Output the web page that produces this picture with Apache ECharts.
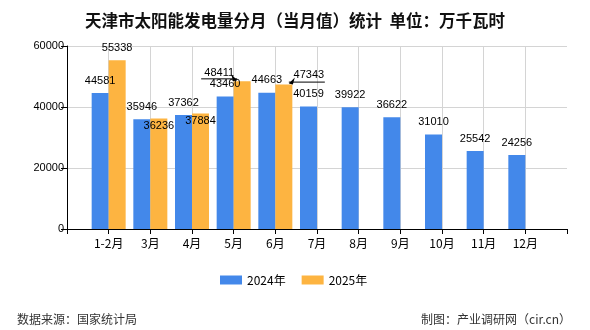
<!DOCTYPE html>
<html>
<head>
<meta charset="utf-8">
<script src="https://cdn.jsdelivr.net/npm/echarts@6/dist/echarts.min.js"></script>
<style>
  html, body { margin: 0; padding: 0; background: #fff; }
  #chart { width: 590px; height: 330px; }
</style>
</head>
<body>
<div id="chart"></div>
<script>
// Month categories (padded with blank points at each end of the axis)
var months = ['', '1-2月', '3月', '4月', '5月', '6月', '7月', '8月', '9月', '10月', '11月', '12月', ''];
// Solar power generation, monthly value, 10k kWh
var values2024 = [null, 44581, 35946, 37362, 43460, 44663, 40159, 39922, 36622, 31010, 25542, 24256, null];
var values2025 = [null, 55338, 36236, 37884, 48411, 47343, null, null, null, null, null, null, null];
var yTicks = { min: 0, max: 60000, interval: 20000 };

// Labels that sit inside the bar top, and labels that are pulled aside with a pointer
var insideLabels2025 = [2, 3];
var calloutLabels2025 = { 4: { offset: [-23, 4], side: -1 }, 5: { offset: [25, 3], side: 1 } };

var BLUE = '#4388ea';
var ORANGE = '#fdb441';
var labelFont = { fontFamily: 'Liberation Sans', fontSize: 11, color: '#000' };

var data2025 = values2025.map(function (v, i) {
  if (v == null) return v;
  var item = { value: v };
  if (insideLabels2025.indexOf(i) >= 0) {
    item.label = { position: 'insideTop', distance: 2 };
  } else if (calloutLabels2025[i]) {
    item.label = { offset: calloutLabels2025[i].offset };
  }
  return item;
});

var lastIndex = months.length - 1;

var chart = echarts.init(document.getElementById('chart'), null, { renderer: 'canvas' });

chart.setOption({
  animation: false,
  backgroundColor: '#fff',
  title: [
    {
      text: '天津市太阳能发电量分月（当月值）统计  单位：万千瓦时',
      left: 'center', top: 7,
      textStyle: { fontFamily: 'Noto Sans CJK SC', fontSize: 16.5, fontWeight: 'bold', color: '#111' }
    },
    {
      text: '数据来源：国家统计局',
      left: 12, top: 308,
      textStyle: { fontFamily: 'Noto Sans CJK SC', fontSize: 12, fontWeight: 'normal', color: '#333' }
    },
    {
      text: '制图：产业调研网（cir.cn）',
      right: 14, top: 308,
      textStyle: { fontFamily: 'Noto Sans CJK SC', fontSize: 12, fontWeight: 'normal', color: '#333' }
    }
  ],
  legend: {
    left: 215, top: 269,
    itemWidth: 22, itemHeight: 9, itemGap: 16,
    textStyle: { fontFamily: 'Noto Sans CJK SC', fontSize: 12, color: '#000' },
    data: [
      { name: '2024年', icon: 'rect' },
      { name: '2025年', icon: 'rect' }
    ]
  },
  grid: { left: 67, right: 23, top: 46, bottom: 101, containLabel: false },
  xAxis: {
    type: 'category',
    data: months,
    boundaryGap: false,
    axisLine: { lineStyle: { color: '#000', width: 1 } },
    axisTick: { show: true, length: 5, lineStyle: { color: '#000' } },
    axisLabel: { fontFamily: 'Noto Sans CJK SC', fontSize: 12, color: '#000', margin: 8, interval: 0 },
    splitLine: {
      show: true,
      interval: function (index) { return index < lastIndex; },
      lineStyle: { color: '#d4d4d4', width: 1 }
    }
  },
  yAxis: {
    type: 'value',
    min: yTicks.min, max: yTicks.max, interval: yTicks.interval,
    axisLine: { show: true, lineStyle: { color: '#000', width: 1 } },
    axisTick: { show: true, length: 6, lineStyle: { color: '#000' } },
    axisLabel: {
      fontFamily: 'Liberation Sans', fontSize: 11, color: '#000', margin: 3,
      formatter: function (v) { return String(v); }
    },
    splitLine: { show: true, lineStyle: { color: '#d4d4d4', width: 1 } }
  },
  series: [
    {
      name: '2024年', type: 'bar', data: values2024,
      barWidth: 17, barGap: '0%',
      itemStyle: { color: BLUE },
      label: Object.assign({ show: true, position: 'top', distance: 7 }, labelFont)
    },
    {
      name: '2025年', type: 'bar', data: data2025,
      barWidth: 17, barGap: '0%',
      itemStyle: { color: ORANGE },
      label: Object.assign({ show: true, position: 'top', distance: 7 }, labelFont)
    }
  ]
});

// Pointer lines from the pulled-aside labels back to their bar tops
var pointers = [];
Object.keys(calloutLabels2025).forEach(function (k) {
  var i = +k;
  var c = calloutLabels2025[i];
  var p = chart.convertToPixel({ seriesIndex: 1 }, [i, values2025[i]]);
  var barCenterX = p[0] + 8.5;
  var tipX = barCenterX + c.side * 5;
  var tipY = p[1] - 1;
  var lineY = tipY - 1.5;
  var endX = tipX + c.side * 36;
  pointers.push({
    type: 'line',
    shape: { x1: tipX, y1: lineY, x2: endX, y2: lineY },
    style: { stroke: '#000', lineWidth: 1 },
    z: 100
  });
  pointers.push({
    type: 'polygon',
    shape: { points: [[tipX, tipY], [tipX + c.side * 6, tipY - 6], [tipX + c.side * 4, tipY + 1]] },
    style: { fill: '#000' },
    z: 100
  });
});
chart.setOption({ graphic: pointers });
</script>
</body>
</html>
